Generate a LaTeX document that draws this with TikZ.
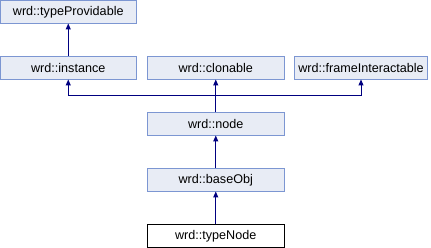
\documentclass[tikz,border=0pt]{standalone}
\usepackage{fontspec}
\setmainfont{Liberation Sans}
\usetikzlibrary{arrows.meta}
\definecolor{boxfill}{RGB}{232,236,245}
\definecolor{boxedge}{RGB}{124,150,210}
\definecolor{linkblue}{RGB}{0,0,128}
\begin{document}
\begin{tikzpicture}[x=1pt,y=-1pt,
  cls/.style={draw=boxedge,fill=boxfill,line width=1pt,inner sep=0pt,outer sep=0pt,
    minimum height=23pt,font=\fontsize{12.6}{14}\selectfont},
  cur/.style={cls,draw=black,fill=white},
  arr/.style={draw=linkblue,line width=1pt,-{Triangle[width=5pt,length=6pt]}}]
\useasboundingbox (0,0) rectangle (431,248);
\node[cls,minimum width=135.5pt] (typeprov) at (68.25,12) {wrd::typeProvidable};
\node[cls,minimum width=135.5pt] (instance) at (68.25,68) {wrd::instance};
\node[cls,minimum width=136.5pt] (clonable) at (215.75,68) {wrd::clonable};
\node[cls,minimum width=132.5pt] (frame) at (361,68) {wrd::frameInteractable};
\node[cls,minimum width=136.5pt] (wnode) at (215.75,124) {wrd::node};
\node[cls,minimum width=136.5pt] (baseobj) at (215.75,180) {wrd::baseObj};
\node[cur,minimum width=136.5pt] (typenode) at (215.75,236) {wrd::typeNode};
\coordinate (bus) at (215.75,96);
\draw[arr] (instance) -- (typeprov);
\draw[arr] (typenode) -- (baseobj);
\draw[arr] (baseobj) -- (wnode);
\draw[arr] (wnode.north) -- (bus) -- (clonable.south);
\draw[arr] (bus) -| (instance.south);
\draw[arr] (bus) -| (frame.south);
\end{tikzpicture}
\end{document}
